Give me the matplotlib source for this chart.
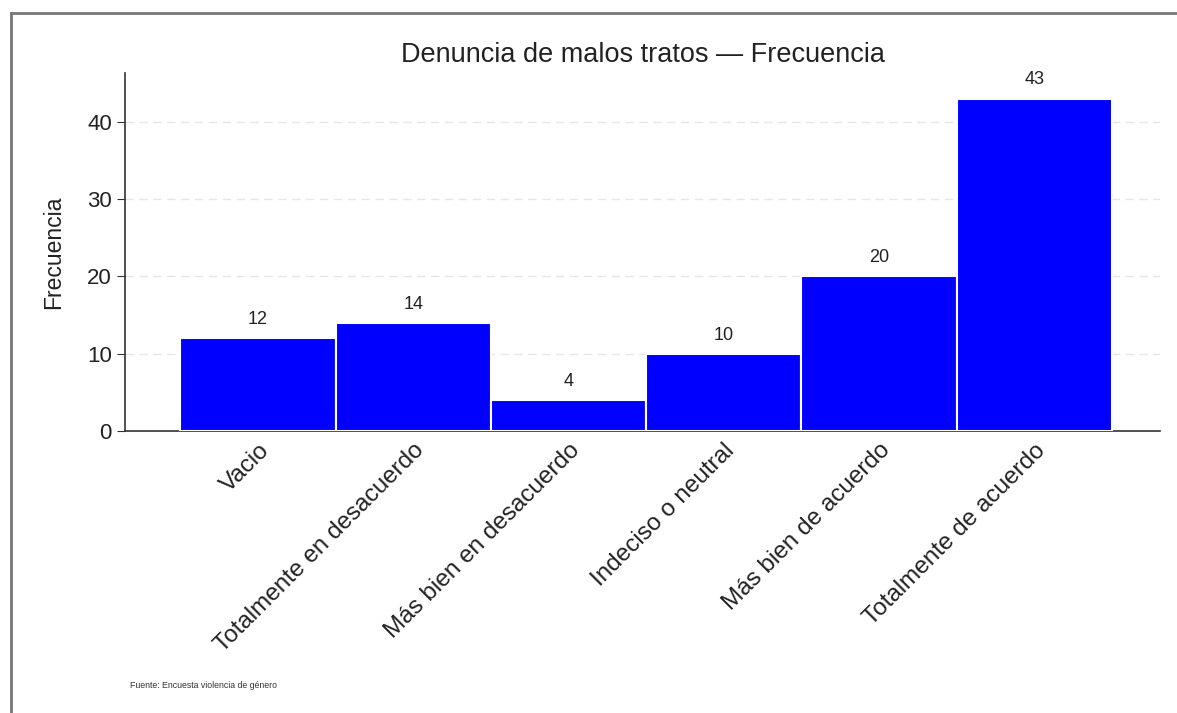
import matplotlib.pyplot as plt
from matplotlib.lines import Line2D

plt.rcParams['font.family'] = ['Liberation Sans', 'DejaVu Sans']

# datos
categorias = ['Vacio', 'Totalmente en desacuerdo', 'Más bien en desacuerdo',
              'Indeciso o neutral', 'Más bien de acuerdo', 'Totalmente de acuerdo']
frecuencias = [12, 14, 4, 10, 20, 43]
ticks_y = [0, 10, 20, 30, 40]

fig = plt.figure(figsize=(11.77, 7.13), dpi=100)
ax = fig.add_axes([0.1062, 0.3955, 0.8794, 0.5021])

x = range(len(categorias))
barras = ax.bar(x, frecuencias, width=1.0, color='#0000ff', edgecolor='white',
                linewidth=1.5, zorder=3)

for b, v in zip(barras, frecuencias):
    ax.text(b.get_x() + b.get_width() / 2, v + 1.3, str(v), ha='center',
            va='bottom', fontsize=13, color='#222222')

ax.set_xlim(-0.857, 5.81)
ax.set_ylim(0, 46.3)
ax.set_yticks(ticks_y)
ax.set_xticks(list(x))
ax.set_xticklabels(categorias, rotation=45, ha='right', rotation_mode='anchor',
                   fontsize=17.5, color='#222222')
ax.tick_params(axis='x', length=0, pad=6)
ax.tick_params(axis='y', length=6, labelsize=16, colors='#333333', labelcolor='#222222')

for yv in ticks_y[1:]:
    ax.axhline(yv, color='#e6e6e6', linestyle=(0, (6, 4)), linewidth=1, zorder=1)

for s in ['top', 'right']:
    ax.spines[s].set_visible(False)
for s in ['left', 'bottom']:
    ax.spines[s].set_color('#333333')
    ax.spines[s].set_linewidth(1.2)

ax.set_ylabel('Frecuencia', fontsize=16.5, color='#222222', labelpad=16)
fig.text(0.546, 0.923, 'Denuncia de malos tratos — Frecuencia', ha='center',
         va='center', fontsize=19.5, color='#222222')
fig.text(0.1105, 0.039, 'Fuente: Encuesta violencia de género', fontsize=6.3,
         color='#333333', va='center')

# marco del grafico
fig.add_artist(Line2D([0.0093, 0.0093], [0, 0.982], color='#777777', linewidth=2,
                      transform=fig.transFigure))
fig.add_artist(Line2D([0.0093, 1.0], [0.982, 0.982], color='#777777', linewidth=2,
                      transform=fig.transFigure))

fig.savefig('out.png', dpi=100)
